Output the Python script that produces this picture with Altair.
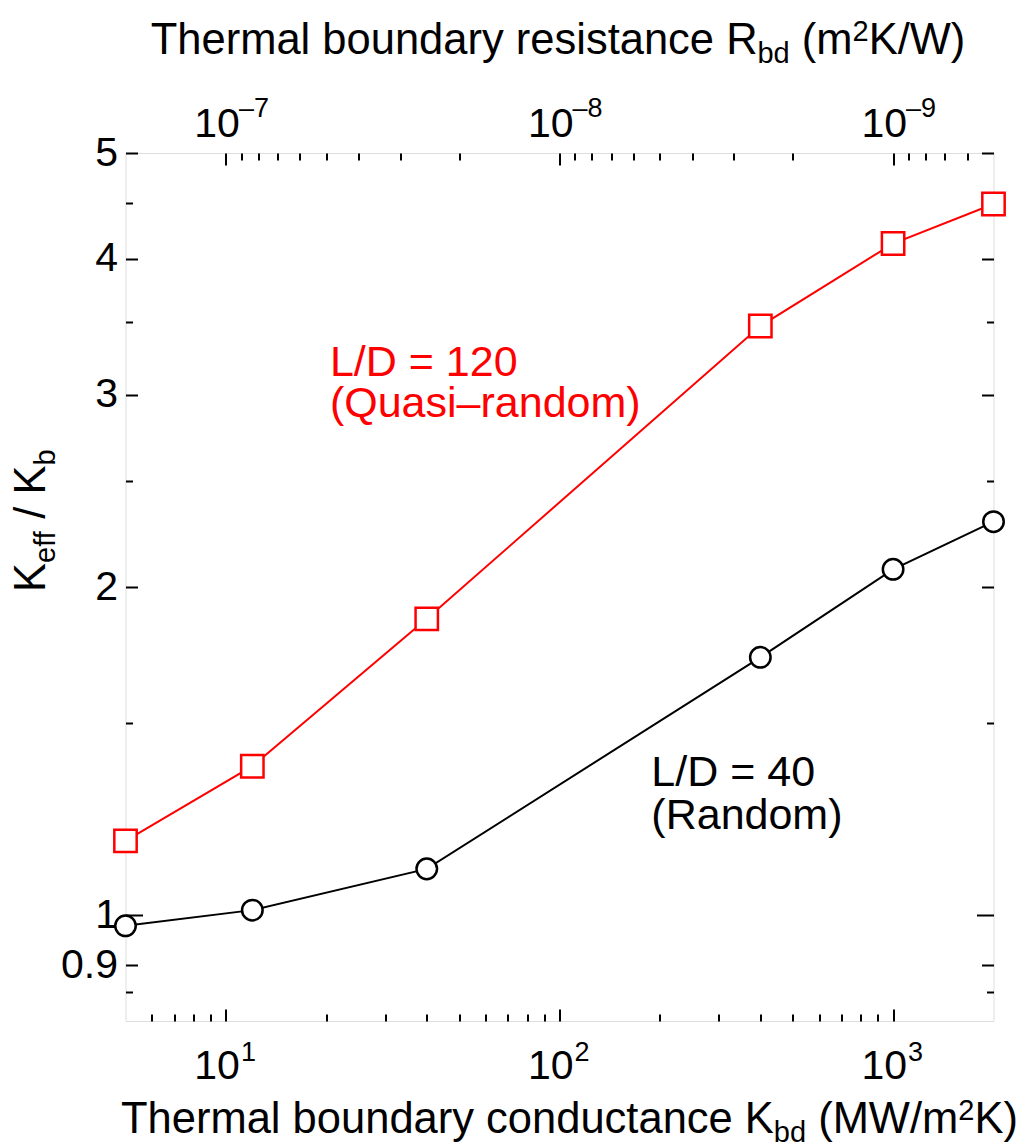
import altair as alt
import pandas as pd

# ---------------- data ----------------
K_bd = [5, 12, 40, 400, 1000, 2000]                      # MW/m^2K
keff_quasi = [1.17, 1.37, 1.87, 3.47, 4.13, 4.49]        # L/D = 120 (Quasi-random)
keff_random = [0.978, 1.011, 1.103, 1.724, 2.076, 2.296]  # L/D = 40 (Random)

x_major = [10, 100, 1000]
x_minor = [6, 7, 8, 9, 20, 30, 40, 50, 60, 70, 80, 90,
           200, 300, 400, 500, 600, 700, 800, 900]
x_label_sup = ["1", "2", "3"]

r_major = [1e-7, 1e-8, 1e-9]                               # m^2K/W
r_minor = [9e-8, 8e-8, 7e-8, 6e-8, 5e-8, 4e-8, 3e-8, 2e-8,
           9e-9, 8e-9, 7e-9, 6e-9, 5e-9, 4e-9, 3e-9, 2e-9,
           9e-10, 8e-10, 7e-10, 6e-10]
r_label_sup = ["\u20137", "\u20138", "\u20139"]

y_major = [0.9, 2, 3, 4, 5]
y_one = [1]
y_minor = [0.85, 1.5, 2.5, 3.5, 4.5]
y_labels = [0.9, 1, 2, 3, 4, 5]

ann_text = ["L/D = 120", "(Quasi\u2013random)", "L/D = 40", "(Random)"]
ann_x = [20.5, 20.5, 188.5, 188.5]
ann_y = [3.124, 2.861, 1.315, 1.201]
ann_color = ["red", "red", "black", "black"]

# ---------------- layout ----------------
W, H = 868, 868
FONT = "Liberation Sans"
XS = alt.Scale(type="log", domain=[5, 2000])
YS = alt.Scale(type="log", domain=[0.8, 5])

def r_to_k(r):
    return 1e-6 / r

AW = {'T': .611, 'h': .556, 'e': .556, 'r': .333, 'm': .833, 'a': .556, 'l': .222,
      ' ': .278, 'b': .556, 'o': .556, 'u': .556, 'n': .556, 'd': .556, 'y': .5,
      'c': .5, 't': .278, 'K': .667, 'R': .722, 's': .5, 'i': .222, '(': .333,
      ')': .333, 'M': .833, 'W': .944, '/': .278, '2': .556, 'f': .278}

def tw(s, size):
    return sum(AW[c] for c in s) * size

FT = 43.5
FS = 29

def seg(text, x, y, size, angle=None):
    kw = dict(align="left", baseline="alphabetic", fontSize=size, font=FONT, color="black")
    if angle is not None:
        kw["angle"] = angle
    return alt.Chart(pd.DataFrame({"t": [text]})).mark_text(**kw).encode(
        x=alt.value(x), y=alt.value(y), text="t:N")

def htitle(parts, x0, y0):
    layers = []
    x = x0
    for text, kind in parts:
        size = FT if kind == "main" else FS
        lead = len(text) - len(text.lstrip(" "))
        x += tw(" " * lead, size)
        body = text.lstrip(" ")
        dy = 0 if kind == "main" else (9 if kind == "sub" else -13)
        layers.append(seg(body, x, y0 + dy, size))
        x += tw(body, size)
    return layers

def vtitle(parts, xb, y0):
    layers = []
    y = y0
    for text, kind in parts:
        size = FT if kind == "main" else FS
        lead = len(text) - len(text.lstrip(" "))
        y -= tw(" " * lead, size)
        body = text.lstrip(" ")
        dx = 0 if kind == "main" else 10
        layers.append(seg(body, xb + dx, y, size, 270))
        y -= tw(body, size)
    return layers

# ---------------- axes (inward ticks) ----------------
df_ax = pd.DataFrame({"K": [100], "v": [2]})

def tick_axis(orient, values, size):
    return alt.Axis(orient=orient, offset=-W if orient in ("left", "right") else -H,
                    values=values, tickSize=size, tickWidth=2, tickColor="black",
                    domain=False, labels=False, grid=False, title="")

def ax_layer(xaxis, yaxis):
    return alt.Chart(df_ax).mark_point(opacity=0).encode(
        x=alt.X("K:Q", scale=XS, axis=xaxis),
        y=alt.Y("v:Q", scale=YS, axis=yaxis))

layers = [
    ax_layer(tick_axis("top", x_major, 12), tick_axis("right", y_major, 12)),
    ax_layer(tick_axis("top", x_minor, 7), tick_axis("right", y_minor, 7)),
    ax_layer(tick_axis("bottom", [r_to_k(r) for r in r_major], 12), tick_axis("left", y_major, 12)),
    ax_layer(tick_axis("bottom", [r_to_k(r) for r in r_minor], 7), tick_axis("left", y_minor, 7)),
    ax_layer(None, tick_axis("right", y_one, 17)),
    ax_layer(None, tick_axis("left", y_one, 17)),
    ax_layer(None, alt.Axis(orient="left", values=y_labels, format="~g", ticks=False, tickSize=0,
                            domain=False, grid=False, labelPadding=8, labelFontSize=41,
                            labelFont=FONT, labelColor="black", labelFlush=False,
                            labelOverlap=False, title="")),
]

# ---------------- data marks ----------------
df = pd.DataFrame({"K": K_bd, "q": keff_quasi, "r": keff_random})

def xenc():
    return alt.X("K:Q", scale=XS, axis=None)

line_r = alt.Chart(df).mark_line(color="black", strokeWidth=2).encode(
    x=xenc(), y=alt.Y("r:Q", scale=YS, axis=None))
line_q = alt.Chart(df).mark_line(color="red", strokeWidth=2).encode(
    x=xenc(), y=alt.Y("q:Q", scale=YS, axis=None))
pts_r = alt.Chart(df).mark_point(shape="circle", size=420, filled=True, fill="white",
                                 stroke="black", strokeWidth=2.5, opacity=1).encode(
    x=xenc(), y=alt.Y("r:Q", scale=YS, axis=None))
pts_q = alt.Chart(df).mark_point(shape="square", size=500, filled=True, fill="white",
                                 stroke="red", strokeWidth=2.5, opacity=1).encode(
    x=xenc(), y=alt.Y("q:Q", scale=YS, axis=None))

df_ann = pd.DataFrame({"K": ann_x, "v": ann_y, "t": ann_text, "c": ann_color})
ann = alt.Chart(df_ann).mark_text(align="left", baseline="alphabetic", fontSize=43, font=FONT).encode(
    x=xenc(), y=alt.Y("v:Q", scale=YS, axis=None), text="t:N",
    color=alt.Color("c:N", scale=None))

# ---------------- tick labels with superscripts ----------------
df_xl = pd.DataFrame({"K": x_major, "base": ["10"] * 3, "sup": x_label_sup})
df_rl = pd.DataFrame({"K": [r_to_k(r) for r in r_major], "base": ["10"] * 3, "sup": r_label_sup})

def lab(d, field, y, size, align, dx):
    return alt.Chart(d).mark_text(align=align, baseline="alphabetic", fontSize=size,
                                  font=FONT, color="black", dx=dx).encode(
        x=xenc(), y=alt.value(y), text=f"{field}:N")

labels = [
    lab(df_xl, "base", 926.3, 41, "right", 14),
    lab(df_xl, "sup", 907.5, 27, "left", 15),
    lab(df_rl, "base", -15.7, 41, "right", 14),
    lab(df_rl, "sup", -35.7, 27, "left", 13),
]

# ---------------- titles ----------------
titles = []
titles += htitle([("Thermal boundary conductance K", "main"), ("bd", "sub"),
                  (" (MW/m", "main"), ("2", "sup"), ("K)", "main")], -4.5, 979.7)
titles += htitle([("Thermal boundary resistance R", "main"), ("bd", "sub"),
                  (" (m", "main"), ("2", "sup"), ("K/W)", "main")], 25.2, -99)
titles += vtitle([("K", "main"), ("eff", "sub"), (" / K", "main"), ("b", "sub")], -80.5, 439)

chart = alt.layer(*layers, line_r, line_q, pts_r, pts_q, ann, *labels, *titles).resolve_axis(
    x="independent", y="independent"
).properties(
    width=W, height=H,
    autosize=alt.AutoSizeParams(type="none"),
    padding={"left": 117.5, "top": 145, "right": 24, "bottom": 126},
).configure_view(stroke="black", strokeWidth=2).configure(background="white", font=FONT)

chart.save("out.html", embed_options={"renderer": "svg", "actions": False})
